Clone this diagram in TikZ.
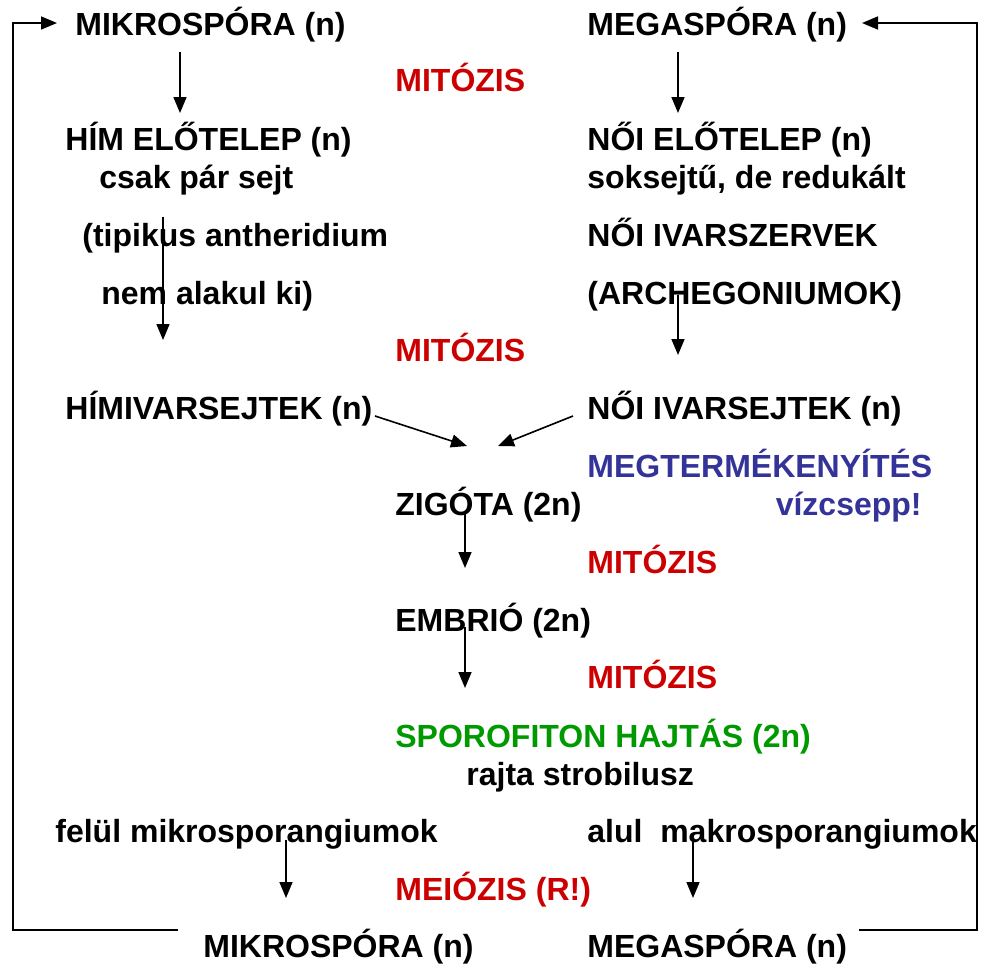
\documentclass[tikz,border=0pt]{standalone}
\usepackage{fontspec}
\setmainfont{Liberation Sans}
\usetikzlibrary{positioning, arrows.meta}

\definecolor{mitred}{RGB}{204,0,0}
\definecolor{fertblue}{RGB}{51,51,153}
\definecolor{sporgreen}{RGB}{0,153,0}

\tikzset{
  txt/.style={anchor=base west, inner sep=0pt, font=\bfseries\fontsize{16}{19}\selectfont},
  arr/.style={-{Triangle[length=8pt,width=6.5pt]}, line width=0.8pt}
}

\begin{document}
\begin{tikzpicture}[x=0.5pt, y=-0.5pt]
	\useasboundingbox (0,0) rectangle (981,964);

	% Spórák
	\node[txt] (mikro) at (75,35) {MIKROSPÓRA (n)};
	\node[txt] (mega) at (587,35) {MEGASPÓRA (n)};
	\node[txt, text=mitred] (mit1) at (395,91) {MITÓZIS};

	% Hím előtelep
	\node[txt] (himelo) at (65,150) {HÍM ELŐTELEP (n)};
	\node[txt] (parsejt) at (99,188) {csak pár sejt};
	\node[txt] (tipikus) at (82,246) {(tipikus antheridium};
	\node[txt] (alakul) at (101,304) {nem alakul ki)};

	% Női előtelep
	\node[txt] (noielo) at (587,150) {NŐI ELŐTELEP (n)};
	\node[txt, below=19pt of noielo.base west, anchor=base west] (soksejt) {soksejtű, de redukált};
	\node[txt, below=29pt of soksejt.base west, anchor=base west] (ivarszerv) {NŐI IVARSZERVEK};
	\node[txt, below=29pt of ivarszerv.base west, anchor=base west] (archeg) {(ARCHEGONIUMOK)};
	\node[txt, text=mitred] (mit2) at (395,361) {MITÓZIS};

	% Ivarsejtek
	\node[txt] (himivar) at (65,419) {HÍMIVARSEJTEK (n)};
	\node[txt] (noiivar) at (587,419) {NŐI IVARSEJTEK (n)};
	\node[txt, text=fertblue, below=29pt of noiivar.base west, anchor=base west] (megterm) {MEGTERMÉKENYÍTÉS};
	\node[txt, text=fertblue, anchor=base east] (vizcsepp) at (922,515) {vízcsepp!};

	% Sporofiton
	\node[txt] (zigota) at (395,515) {ZIGÓTA (2n)};
	\node[txt, text=mitred] (mit3) at (587,573) {MITÓZIS};
	\node[txt] (embrio) at (395,631) {EMBRIÓ (2n)};
	\node[txt, text=mitred] (mit4) at (587,688) {MITÓZIS};
	\node[txt, text=sporgreen] (sporo) at (395,747) {SPOROFITON HAJTÁS (2n)};
	\node[txt] (strobil) at (466,785) {rajta strobilusz};

	% Sporangiumok
	\node[txt] (felul) at (55,842) {felül mikrosporangiumok};
	\node[txt] (alul) at (587,842) {alul\ \ makrosporangiumok};
	\node[txt, text=mitred] (meio) at (395,900) {MEIÓZIS (R!)};
	\node[txt] (mikro2) at (203,957) {MIKROSPÓRA (n)};
	\node[txt] (mega2) at (587,957) {MEGASPÓRA (n)};

	% Nyilak végpontjai
	\coordinate (a1s) at (180,52);  \coordinate (a1e) at (180,113);
	\coordinate (a2s) at (678,52);  \coordinate (a2e) at (678,113);
	\coordinate (a3s) at (163,217); \coordinate (a3e) at (163,340);
	\coordinate (a4s) at (678,295); \coordinate (a4e) at (678,355);
	\coordinate (a5s) at (375,416); \coordinate (a5e) at (467,446);
	\coordinate (a6s) at (573,416); \coordinate (a6e) at (498,446);
	\coordinate (a7s) at (465,512); \coordinate (a7e) at (465,568);
	\coordinate (a8s) at (465,627); \coordinate (a8e) at (465,688);
	\coordinate (a9s) at (286,840); \coordinate (a9e) at (286,898);
	\coordinate (a10s) at (693,842); \coordinate (a10e) at (693,898);

	% Nyilak
	\draw[arr] (a1s) -- (a1e);
	\draw[arr] (a2s) -- (a2e);
	\draw[arr] (a3s) -- (a3e);
	\draw[arr] (a4s) -- (a4e);
	\draw[arr] (a5s) -- (a5e);
	\draw[arr] (a6s) -- (a6e);
	\draw[arr] (a7s) -- (a7e);
	\draw[arr] (a8s) -- (a8e);
	\draw[arr] (a9s) -- (a9e);
	\draw[arr] (a10s) -- (a10e);

	% Visszacsatolás
	\coordinate (loopLs) at (178,930); \coordinate (cornerL) at (13,23); \coordinate (loopLe) at (57,23);
	\coordinate (loopRs) at (859,930); \coordinate (cornerR) at (977,23); \coordinate (loopRe) at (862,23);
	\draw[arr] (loopLs) -| (cornerL) -- (loopLe);
	\draw[arr] (loopRs) -| (cornerR) -- (loopRe);
\end{tikzpicture}
\end{document}
